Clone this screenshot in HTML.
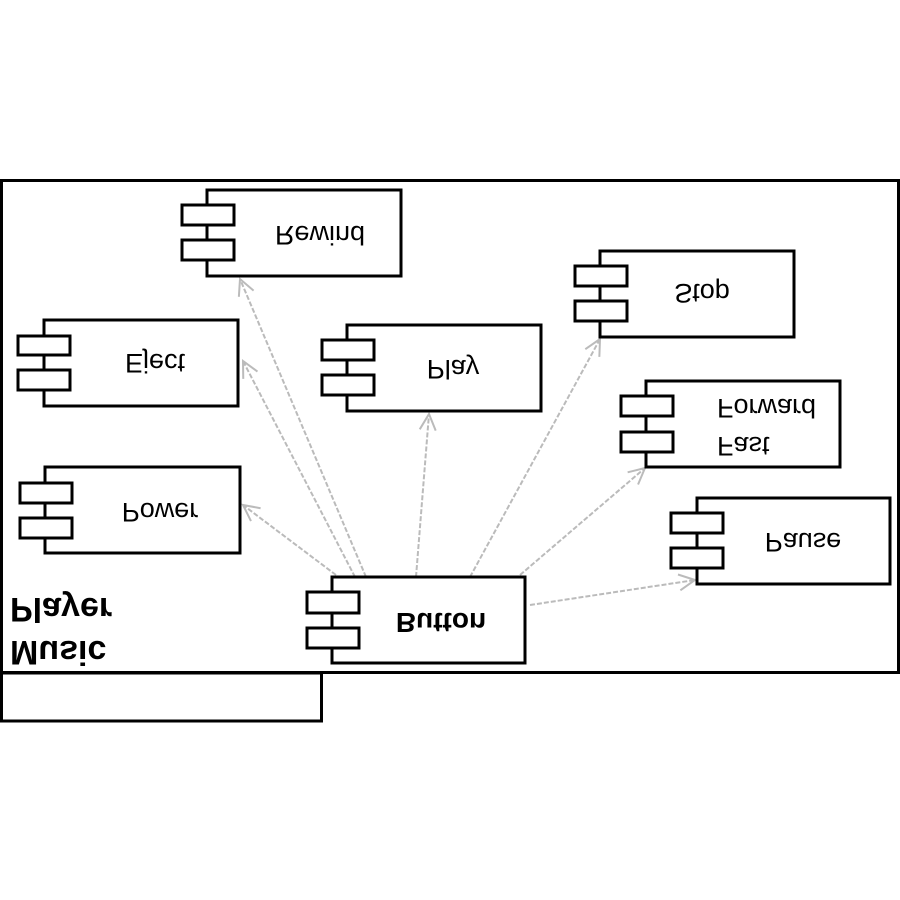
<!DOCTYPE html>
<html><head><meta charset="utf-8"><style>
html,body{margin:0;padding:0;background:#fff;}
svg{display:block;}
text{font-family:"Liberation Sans",sans-serif;font-size:27px;fill:#000;}
</style></head><body>
<svg width="900" height="900" viewBox="0 0 900 900" xmlns="http://www.w3.org/2000/svg">
<defs>
<marker id="a" viewBox="0 0 20 20" refX="18" refY="10" markerWidth="20" markerHeight="20" markerUnits="userSpaceOnUse" orient="auto">
<path d="M2,2 L18,10 L2,18" fill="none" stroke="#bbb" stroke-width="2"/>
</marker>
</defs>
<rect x="0" y="0" width="900" height="900" fill="#fff"/>
<rect x="1.5" y="180.5" width="897" height="492" fill="none" stroke="#000" stroke-width="3"/>
<rect x="1.5" y="673" width="320" height="48" fill="none" stroke="#000" stroke-width="3"/>
<g stroke="#bbb" stroke-width="2" stroke-dasharray="5,2" fill="none">
<line x1="366" y1="577" x2="240" y2="279" marker-end="url(#a)"/>
<line x1="355" y1="577" x2="243" y2="361" marker-end="url(#a)"/>
<line x1="336" y1="575" x2="243" y2="505" marker-end="url(#a)"/>
<line x1="416" y1="577" x2="429" y2="414" marker-end="url(#a)"/>
<line x1="470" y1="577" x2="600" y2="339" marker-end="url(#a)"/>
<line x1="520" y1="575" x2="645" y2="468" marker-end="url(#a)"/>
<line x1="530" y1="605" x2="695" y2="580" marker-end="url(#a)"/>
</g>
<g fill="#fff" stroke="#000" stroke-width="3">
<rect x="207" y="190" width="194" height="86"/><rect x="182" y="205" width="52" height="20"/><rect x="182" y="240" width="52" height="20"/>
<rect x="44" y="320" width="194" height="86"/><rect x="18" y="336" width="52" height="19"/><rect x="18" y="370" width="52" height="20"/>
<rect x="347" y="325" width="194" height="86"/><rect x="322" y="340" width="52" height="20"/><rect x="322" y="375" width="52" height="20"/>
<rect x="600" y="251" width="194" height="86"/><rect x="575" y="266" width="52" height="20"/><rect x="575" y="301" width="52" height="20"/>
<rect x="646" y="381" width="194" height="86"/><rect x="621" y="396" width="52" height="20"/><rect x="621" y="432" width="52" height="20"/>
<rect x="697" y="498" width="193" height="86"/><rect x="671" y="513" width="52" height="20"/><rect x="671" y="548" width="52" height="20"/>
<rect x="45" y="467" width="195" height="86"/><rect x="20" y="483" width="52" height="20"/><rect x="20" y="518" width="52" height="20"/>
<rect x="332" y="577" width="193" height="86"/><rect x="307" y="592" width="52" height="21"/><rect x="307" y="628" width="52" height="20"/>
</g>
<g text-anchor="middle">
<text transform="translate(320,226) scale(1,-1)">Rewind</text>
<text transform="translate(155,354) scale(1,-1)">Eject</text>
<text transform="translate(453,360) scale(1,-1)">Play</text>
<text transform="translate(702,284) scale(1,-1)">Stop</text>
<text transform="translate(803,533) scale(1,-1)">Pause</text>
<text transform="translate(160,503) scale(1,-1)">Power</text>
<text transform="translate(441,613) scale(1,-1)" style="font-weight:bold;font-size:28px">Button</text>
</g>
<text transform="translate(717,437) scale(1,-1)">Fast</text>
<text transform="translate(717,399) scale(1,-1)">Forward</text>
<text transform="translate(10,598) scale(1,-1)" style="font-weight:bold;font-size:34px">Player</text>
<text transform="translate(10,641) scale(1,-1)" style="font-weight:bold;font-size:34px">Music</text>
</svg>
</body></html>
